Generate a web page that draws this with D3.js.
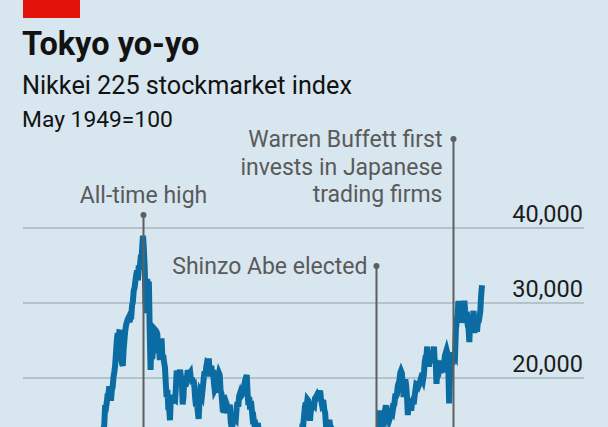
<!DOCTYPE html>
<html>
<head>
<meta charset="utf-8">
<script src="https://cdn.jsdelivr.net/npm/d3@7"></script>
<style>
  html, body { margin: 0; padding: 0; background: #d7e6ef; overflow: hidden; }
  #chart svg { display: block; font-family: Roboto, "Noto Sans", sans-serif; }
</style>
</head>
<body>
<div id="chart"></div>
<script>
// Nikkei 225, monthly readings (off-screen stretches kept sparse)
var dates = [
  '1980-01','1981-06','1982-10','1983-12','1984-12','1985-06','1985-12',
  '1986-01','1986-02','1986-03','1986-04','1986-05','1986-06','1986-07','1986-08','1986-09','1986-10','1986-11','1986-12',
  '1987-01','1987-02','1987-03','1987-04','1987-05','1987-06','1987-07','1987-08','1987-09','1987-10','1987-11','1987-12',
  '1988-01','1988-02','1988-03','1988-04','1988-05','1988-06','1988-07','1988-08','1988-09','1988-10','1988-11','1988-12',
  '1989-01','1989-02','1989-03','1989-04','1989-05','1989-06','1989-07','1989-08','1989-09','1989-10','1989-11','1989-12',
  '1990-01','1990-02','1990-03','1990-04','1990-05','1990-06','1990-07','1990-08','1990-09','1990-10','1990-11','1990-12',
  '1991-01','1991-02','1991-03','1991-04','1991-05','1991-06','1991-07','1991-08','1991-09','1991-10','1991-11','1991-12',
  '1992-01','1992-02','1992-03','1992-04','1992-05','1992-06','1992-07','1992-08','1992-09','1992-10','1992-11','1992-12',
  '1993-01','1993-02','1993-03','1993-04','1993-05','1993-06','1993-07','1993-08','1993-09','1993-10','1993-11','1993-12',
  '1994-01','1994-02','1994-03','1994-04','1994-05','1994-06','1994-07','1994-08','1994-09','1994-10','1994-11','1994-12',
  '1995-01','1995-02','1995-03','1995-04','1995-05','1995-06','1995-07','1995-08','1995-09','1995-10','1995-11','1995-12',
  '1996-01','1996-02','1996-03','1996-04','1996-05','1996-06','1996-07','1996-08','1996-09','1996-10','1996-11','1996-12',
  '1997-01','1997-02','1997-03','1997-04','1997-05','1997-06','1997-07','1997-08','1997-09','1997-10','1997-11','1997-12',
  '1998-01','1998-02','1998-03','1998-04','1998-05','1998-06','1998-07','1998-08','1998-09','1998-10','1998-11','1998-12',
  '1999-01','1999-02','1999-03','1999-04','1999-05','1999-06','1999-07','1999-08','1999-09','1999-10','1999-11','1999-12',
  '2000-01','2000-02','2000-03','2000-04','2000-05','2000-06','2000-07','2000-08','2000-09','2000-10','2000-11','2000-12',
  '2001-01','2001-02','2001-03','2001-04','2001-05','2001-06','2001-07','2001-08','2001-09','2001-12',
  '2002-05','2002-12','2003-04','2003-08','2004-04','2004-12',
  '2005-01','2005-02','2005-03','2005-04','2005-05','2005-06','2005-07','2005-08','2005-09','2005-10','2005-11','2005-12',
  '2006-01','2006-02','2006-03','2006-04','2006-05','2006-06','2006-07','2006-08','2006-09','2006-10','2006-11','2006-12',
  '2007-01','2007-02','2007-03','2007-04','2007-05','2007-06','2007-07','2007-08','2007-09','2007-10','2007-11','2007-12',
  '2008-01','2008-02','2008-03','2008-04','2008-05','2008-06','2008-07','2008-08','2008-09','2008-10','2008-12',
  '2009-03','2009-08','2010-04','2010-08','2011-02','2011-11','2012-03','2012-06','2012-11','2012-12',
  '2013-01','2013-02','2013-03','2013-04','2013-05','2013-06','2013-07','2013-08','2013-09','2013-10','2013-11','2013-12',
  '2014-01','2014-02','2014-03','2014-04','2014-05','2014-06','2014-07','2014-08','2014-09','2014-10','2014-11','2014-12',
  '2015-01','2015-02','2015-03','2015-04','2015-05','2015-06','2015-07','2015-08','2015-09','2015-10','2015-11','2015-12',
  '2016-01','2016-02','2016-03','2016-04','2016-05','2016-06','2016-07','2016-08','2016-09','2016-10','2016-11','2016-12',
  '2017-01','2017-02','2017-03','2017-04','2017-05','2017-06','2017-07','2017-08','2017-09','2017-10','2017-11','2017-12',
  '2018-01','2018-02','2018-03','2018-04','2018-05','2018-06','2018-07','2018-08','2018-09','2018-10','2018-11','2018-12',
  '2019-01','2019-02','2019-03','2019-04','2019-05','2019-06','2019-07','2019-08','2019-09','2019-10','2019-11','2019-12',
  '2020-01','2020-02','2020-03','2020-04','2020-05','2020-06','2020-07','2020-08','2020-09','2020-10','2020-11','2020-12',
  '2021-01','2021-02','2021-03','2021-04','2021-05','2021-06','2021-07','2021-08','2021-09','2021-10','2021-11','2021-12',
  '2022-01','2022-02','2022-03','2022-04','2022-05','2022-06','2022-07','2022-08','2022-09','2022-10','2022-11','2022-12',
  '2023-01','2023-02','2023-03','2023-04','2023-05','2023-06'
];
var values = [
  6600, 7600, 6900, 9900, 11500, 12800, 13100,
  13000, 13600, 15860, 15830, 16600, 17650, 17730, 18820, 17850, 16910, 18330, 18700,
  20020, 20770, 21570, 23270, 24900, 25930, 24490, 26030, 26010, 22770, 21910, 21560,
  23620, 25100, 26260, 27030, 27420, 27770, 28000, 27370, 27920, 28000, 29580, 30160,
  31580, 31990, 32840, 33710, 34270, 32950, 34950, 34430, 35640, 35550, 37270, 38916,
  37190, 34590, 29980, 28600, 33130, 31940, 32800, 25980, 21000, 25190, 22450, 23850,
  23290, 26410, 26290, 26110, 25790, 23290, 23900, 22340, 23920, 25220, 22690, 22980,
  22020, 21340, 19350, 17390, 18350, 15950, 15910, 14310, 17400, 16770, 17680, 16920,
  17020, 16950, 18590, 20920, 20550, 19590, 20380, 21030, 20100, 19700, 16410, 17420,
  20230, 19100, 19110, 19730, 20970, 20640, 20450, 20630, 19560, 19990, 19080, 19720,
  18650, 17050, 16140, 16810, 15440, 14490, 16680, 18120, 17910, 17650, 18740, 19870,
  20810, 20130, 21410, 22040, 21960, 22530, 20690, 20170, 21560, 20470, 21020, 19360,
  18330, 18560, 18000, 19150, 20070, 20600, 20330, 18230, 17890, 16460, 16630, 15260,
  16630, 16830, 16530, 15640, 15670, 15830, 16380, 14110, 13410, 13560, 14880, 13840,
  14500, 14370, 15840, 16700, 16110, 17530, 17860, 17440, 17600, 17940, 18560, 18930,
  19540, 19960, 20340, 17970, 16330, 17410, 15730, 16860, 15750, 14540, 14650, 13790,
  13840, 12880, 12990, 13930, 13260, 12970, 11860, 10710, 9770, 10540,
  11700, 8600, 7800, 10300, 12000, 11500,
  11390, 11740, 11670, 11010, 11280, 11580, 11900, 12410, 13570, 13610, 14870, 16110,
  16650, 16200, 17060, 16910, 15470, 14220, 15460, 16140, 16130, 16400, 16270, 17230,
  17380, 17600, 17290, 17400, 17880, 18240, 17250, 16570, 16790, 16740, 15680, 15310,
  13590, 13600, 12530, 13850, 14340, 13480, 13380, 13070, 11260, 8580, 8860,
  7500, 10500, 11000, 9000, 10600, 8400, 10000, 8600, 9450, 10400,
  11140, 11560, 12400, 13860, 15600, 13680, 13670, 13390, 14460, 14330, 15660, 16290,
  14910, 14840, 14830, 14300, 14630, 15160, 15620, 15420, 16170, 16410, 17460, 17450,
  17670, 18800, 19210, 19520, 20560, 20870, 20590, 18890, 17390, 19080, 19750, 19030,
  17520, 15000, 16760, 16670, 17230, 15580, 16570, 16890, 16450, 17430, 18310, 19110,
  19040, 19120, 18910, 19200, 19650, 20030, 19930, 19650, 20360, 22010, 22720, 22760,
  24120, 22070, 21450, 22470, 22200, 22300, 22550, 22870, 24120, 21920, 22350, 19150,
  20770, 21390, 21210, 22260, 20600, 21280, 21520, 20700, 21760, 22930, 23290, 23660,
  23210, 21140, 16550, 20190, 21880, 22290, 21710, 23140, 23190, 22980, 26430, 27440,
  28500, 30200, 29180, 28810, 28860, 28790, 27280, 28090, 30250, 28890, 27820, 28790,
  27000, 26530, 24720, 27800, 26850, 26390, 27800, 28880, 25940, 27590, 27970, 26090,
  27330, 27450, 28040, 28860, 30890, 32300
];
var tickValues = [20000, 30000, 40000];
var tickLabels = ['20,000', '30,000', '40,000'];

var noteDates = ['1989-12', '2012-12', '2020-08'];
var noteTexts = [
  ['All-time high'],
  ['Shinzo Abe elected'],
  ['Warren Buffett first', 'invests in Japanese', 'trading firms']
];

(function () {
  var W = 608, H = 427;
  var parse = d3.timeParse('%Y-%m');
  var data = dates.map(function (d, i) { return { date: parse(d), value: values[i] }; });

  var svg = d3.select('#chart').append('svg')
    .attr('width', W).attr('height', H)
    .style('overflow', 'hidden');

  // header
  svg.append('rect').attr('x', 23).attr('y', 0).attr('width', 57).attr('height', 18).attr('fill', '#e3120b');
  svg.append('text').attr('x', 22).attr('y', 55)
    .style('font-size', '32.5px').style('font-weight', 700).attr('fill', '#121212')
    .text('Tokyo yo-yo');
  svg.append('text').attr('x', 22).attr('y', 94)
    .style('font-size', '25.2px').attr('fill', '#121212')
    .text('Nikkei 225 stockmarket index');
  svg.append('text').attr('x', 22).attr('y', 127)
    .style('font-size', '22.8px').attr('fill', '#121212')
    .text('May 1949=100');

  var x = d3.scaleTime()
    .domain([parse('1989-12'), parse('2023-06')])
    .range([143, 482]);
  var y = d3.scaleLinear().domain([0, 40000]).range([527.5, 227.5]);

  // gridlines + labels
  var yAxis = d3.axisRight(y)
    .tickValues(tickValues)
    .tickSize(584 - 23)
    .tickFormat(function (d, i) { return tickLabels[i]; });
  var g = svg.append('g').attr('transform', 'translate(23,0)').call(yAxis);
  g.select('.domain').remove();
  g.selectAll('.tick line').attr('stroke', '#a9b6bd').attr('stroke-width', 1.5);
  g.selectAll('.tick text')
    .attr('x', 584 - 23 - 1).attr('dy', -6)
    .attr('text-anchor', 'end')
    .attr('fill', '#1c1c1c')
    .style('font-family', 'Roboto, sans-serif')
    .style('font-size', '23.5px');

  var line = d3.line()
    .x(function (d) { return x(d.date); })
    .y(function (d) { return y(d.value); });

  svg.append('path')
    .datum(data)
    .attr('fill', 'none')
    .attr('stroke', '#0b6ca3')
    .attr('stroke-width', 6)
    .attr('d', line);

  // annotations
  var layout = [
    { top: 215, anchor: 'middle', dx: 0, base: 203 },
    { top: 266, anchor: 'end', dx: -9, base: 274 },
    { top: 139, anchor: 'end', dx: -11, base: 147 }
  ];
  noteDates.forEach(function (d, i) {
    var nx = Math.round(x(parse(d))) + 0.5;
    var L = layout[i];
    svg.append('line')
      .attr('x1', nx).attr('x2', nx)
      .attr('y1', L.top).attr('y2', H + 10)
      .attr('stroke', '#5f5f5f').attr('stroke-width', 2);
    svg.append('circle').attr('cx', nx).attr('cy', L.top).attr('r', 3).attr('fill', '#5f5f5f');
    var t = svg.append('text')
      .attr('text-anchor', L.anchor)
      .attr('fill', '#5a5a5a')
      .style('font-size', '23px');
    noteTexts[i].forEach(function (s, j) {
      t.append('tspan').attr('x', nx + L.dx).attr('y', L.base + j * 27.5).text(s);
    });
  });
})();
</script>
</body>
</html>
